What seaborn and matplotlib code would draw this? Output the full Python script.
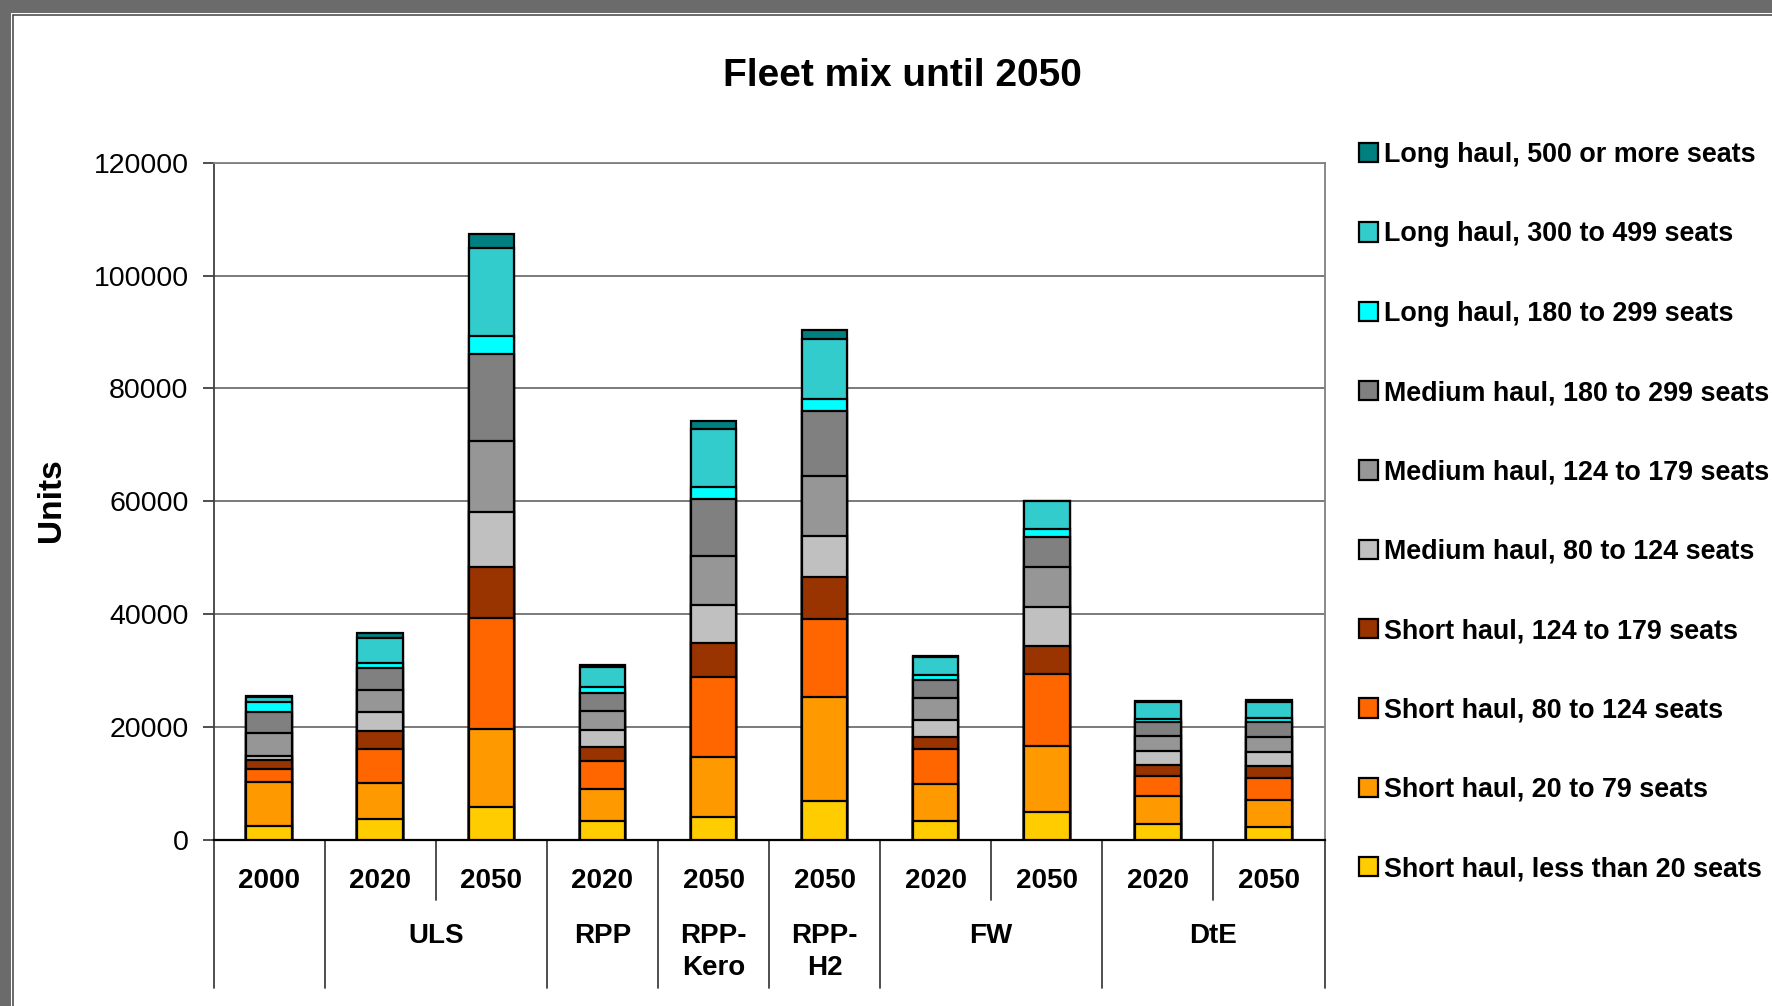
import matplotlib
matplotlib.use("Agg")
import matplotlib.pyplot as plt
import matplotlib.transforms as mtransforms
from matplotlib.patches import Patch, Rectangle
import numpy as np
import pandas as pd
import seaborn as sns

# bar keys (left to right) and the two label rows under the axis
bar_keys = ["2000", "ULS 2020", "ULS 2050", "RPP 2020", "RPP-Kero 2050",
            "RPP-H2 2050", "FW 2020", "FW 2050", "DtE 2020", "DtE 2050"]
year_labels = ["2000", "2020", "2050", "2020", "2050",
               "2050", "2020", "2050", "2020", "2050"]
group_labels = ["", "ULS", "RPP", "RPP-\nKero", "RPP-\nH2", "FW", "DtE"]
group_spans = [(0, 0), (1, 2), (3, 3), (4, 4), (5, 5), (6, 7), (8, 9)]

# fleet segments, bottom of the stack first
series_names = [
    "Short haul, less than 20 seats",
    "Short haul, 20 to 79 seats",
    "Short haul, 80 to 124 seats",
    "Short haul, 124 to 179 seats",
    "Medium haul, 80 to 124 seats",
    "Medium haul, 124 to 179 seats",
    "Medium haul, 180 to 299 seats",
    "Long haul, 180 to 299 seats",
    "Long haul, 300 to 499 seats",
    "Long haul, 500 or more seats",
]
short_lt20 = [2500, 3600, 5800, 3250, 4100, 6800, 3250, 4850, 2850, 2250]
short_20_79 = [7700, 6500, 13800, 5650, 10500, 18500, 6700, 11750, 4850, 4750]
short_80_124 = [2400, 5950, 19700, 5000, 14200, 13900, 6050, 12850, 3650, 3850]
short_124_179 = [1600, 3150, 9100, 2550, 6150, 7400, 2250, 4800, 1950, 2300]
medium_80_124 = [700, 3400, 9600, 2950, 6700, 7200, 2950, 7050, 2350, 2350]
medium_124_179 = [4000, 4000, 12700, 3400, 8600, 10600, 3850, 7000, 2800, 2700]
medium_180_299 = [3750, 3900, 15400, 3250, 10200, 11500, 3200, 5350, 2350, 2750]
long_180_299 = [1700, 900, 3200, 1100, 2100, 2200, 950, 1500, 600, 600]
long_300_499 = [950, 4400, 15600, 3500, 10300, 10700, 3250, 4850, 3000, 2900]
long_500 = [150, 750, 2400, 300, 1400, 1600, 100, 100, 250, 400]

series_values = [short_lt20, short_20_79, short_80_124, short_124_179,
                 medium_80_124, medium_124_179, medium_180_299,
                 long_180_299, long_300_499, long_500]
series_colors = ["#FFCC00", "#FF9900", "#FF6600", "#993300", "#C0C0C0",
                 "#969696", "#808080", "#00FFFF", "#33CCCC", "#008080"]

y_ticks = [0, 20000, 40000, 60000, 80000, 100000, 120000]

sns.set_theme(style="white")
plt.rcParams["font.family"] = ["Liberation Sans", "DejaVu Sans"]
plt.rcParams["text.color"] = "black"
plt.rcParams["ytick.color"] = "black"
plt.rcParams["axes.labelcolor"] = "black"

W, H = 1772, 1006
fig = plt.figure(figsize=(W / 100, H / 100), dpi=100)
ax = fig.add_axes([213.6 / W, 1 - 839.7 / H, (1324.5 - 213.6) / W,
                   (839.7 - 162.7) / H])

# stacked bars: draw cumulative totals from the top series down
cum = np.cumsum(np.array(series_values), axis=0)
for i in reversed(range(len(series_names))):
    df = pd.DataFrame({"bar": bar_keys, "units": cum[i]})
    sns.barplot(data=df, x="bar", y="units", order=bar_keys,
                color=series_colors[i], saturation=1, width=0.41,
                edgecolor="black", linewidth=1.6, errorbar=None, ax=ax,
                zorder=3)

ax.set_xlim(-0.5, len(bar_keys) - 0.5)
ax.set_ylim(0, 120000)
ax.set_yticks(y_ticks)
ax.set_yticklabels([str(v) for v in y_ticks], fontsize=20.5)
ax.set_xticks([])
ax.set_xlabel("")
ax.set_ylabel("")
ax.yaxis.grid(True, color="#707070", linewidth=1.3)
ax.set_axisbelow(True)
ax.tick_params(axis="y", direction="out", length=8, width=1.3,
               color="#404040", left=True, pad=10, labelcolor="black")
for side in ["top", "right"]:
    ax.spines[side].set_color("#808080")
    ax.spines[side].set_linewidth(1.3)
ax.spines["left"].set_color("#404040")
ax.spines["left"].set_linewidth(1.3)
ax.spines["bottom"].set_color("black")
ax.spines["bottom"].set_linewidth(1.6)

# two-level category axis
trans = mtransforms.blended_transform_factory(ax.transData, ax.transAxes)
px = 1.0 / (839.7 - 162.7)
for i, lab in enumerate(year_labels):
    ax.text(i, -(881 - 839.7) * px, lab, transform=trans, ha="center",
            va="center", fontsize=20, fontweight="bold")
for lab, (a, b) in zip(group_labels, group_spans):
    ax.text((a + b) / 2, -(923 - 839.7) * px, lab, transform=trans,
            ha="center", va="top", fontsize=20, fontweight="bold",
            linespacing=1.3)
full_div = [-0.5, 0.5, 2.5, 3.5, 4.5, 5.5, 7.5, 9.5]
short_div = [1.5, 6.5, 8.5]
for xv in full_div:
    ax.plot([xv, xv], [0, -(988 - 839.7) * px], transform=trans,
            color="#404040", linewidth=1.3, clip_on=False)
for xv in short_div:
    ax.plot([xv, xv], [0, -(900 - 839.7) * px], transform=trans,
            color="#404040", linewidth=1.3, clip_on=False)

fig.text(902 / W, 1 - 76 / H, "Fleet mix until 2050", ha="center",
         va="center", fontsize=28, fontweight="bold")
fig.text(51 / W, 1 - 500 / H, "Units", ha="center", va="center",
         rotation=90, fontsize=24, fontweight="bold")

handles = [Patch(facecolor=c, edgecolor="black", linewidth=1.6)
           for c in series_colors][::-1]
fig.legend(handles, series_names[::-1], loc="upper left",
           bbox_to_anchor=(1359 / W, 1 - 142 / H), frameon=False,
           prop={"size": 19.4, "weight": "bold"}, handlelength=0.72,
           handleheight=0.72, handletextpad=0.2, labelspacing=1.98,
           borderaxespad=0, borderpad=0)

# window frame along the top and left edges
fig.patches.append(Rectangle((0, 1 - 13 / H), 1, 13 / H,
                             transform=fig.transFigure,
                             facecolor="#6b6b6b", edgecolor="none"))
fig.patches.append(Rectangle((0, 0), 11 / W, 1, transform=fig.transFigure,
                             facecolor="#6b6b6b", edgecolor="none"))
fig.add_artist(plt.Line2D([13 / W, 1], [1 - 15 / H, 1 - 15 / H],
                          transform=fig.transFigure, color="#505050",
                          linewidth=1.2))
fig.add_artist(plt.Line2D([13 / W, 13 / W], [0, 1 - 15 / H],
                          transform=fig.transFigure, color="#505050",
                          linewidth=1.2))

fig.savefig("out.png", dpi=100, facecolor="white")
